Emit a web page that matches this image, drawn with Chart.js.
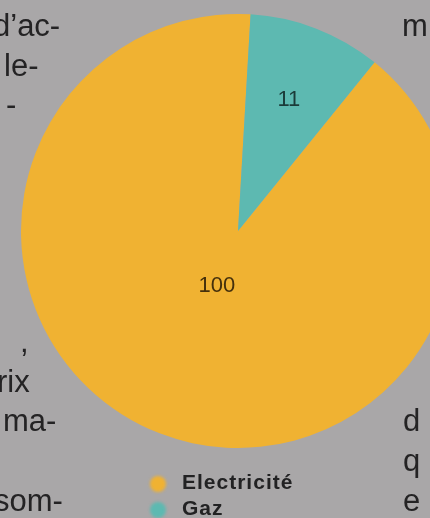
<!DOCTYPE html>
<html>
<head>
<meta charset="utf-8">
<script src="https://cdn.jsdelivr.net/npm/chart.js@4.4.1/dist/chart.umd.min.js"></script>
<style>
  html, body { margin: 0; padding: 0; }
  body {
    width: 430px; height: 518px; overflow: hidden; position: relative;
    background: #a9a7a8;
    font-family: "Liberation Sans", Arial, sans-serif;
  }
  .txt { position: absolute; font-size: 31px; line-height: 40px; color: #242324; white-space: pre; filter: blur(0.4px); }
  #wrap { position: absolute; left: 0; top: 0; width: 476px; height: 518px; }
  #pieChart { filter: blur(0.5px); }
  #legend { position: absolute; left: 148px; top: 472px; }
  .item { position: relative; height: 26px; font-weight: bold; font-size: 21px; letter-spacing: 1px; color: #222223; }
  .dot { position: absolute; left: 2px; top: 4px; width: 16px; height: 16px; border-radius: 50%; filter: blur(1.5px); }
  .lab { position: absolute; left: 34px; top: -2px; white-space: nowrap; filter: blur(0.4px); }
</style>
</head>
<body>
<!-- page text around the figure (scanned book page) -->
<div class="txt" style="left:-7px; top:6px;">d’ac-</div>
<div class="txt" style="left:4px; top:46px;">le-</div>
<div class="txt" style="left:6px; top:85px;">-</div>
<div class="txt" style="left:20px; top:322px;">,</div>
<div class="txt" style="left:-3px; top:362px;">rix</div>
<div class="txt" style="left:3px; top:401px;">ma-</div>
<div class="txt" style="left:-6px; top:481px;">som-</div>
<div class="txt" style="left:402px; top:6px;">m</div>
<div class="txt" style="left:403px; top:401px;">d</div>
<div class="txt" style="left:403px; top:441px;">q</div>
<div class="txt" style="left:403px; top:481px;">e</div>

<div id="wrap"><canvas id="pieChart" width="476" height="518"></canvas></div>
<div id="legend"></div>

<script>
var categories = ['Electricité', 'Gaz'];
var values = [100, 11];
var sliceColors = ['#f0b232', '#5db9b1'];
var labelColors = ['#45300c', '#1b3b39'];

// how far out (fraction of radius) each value label sits
var labelDistance = [0.27, 0.65];

var valueLabels = {
    id: 'valueLabels',
    afterDatasetsDraw: function (chart) {
        var ctx = chart.ctx;
        var meta = chart.getDatasetMeta(0);
        ctx.save();
        ctx.font = '22px "Liberation Sans", Arial, sans-serif';
        ctx.textAlign = 'center';
        ctx.textBaseline = 'middle';
        meta.data.forEach(function (arc, i) {
            var mid = (arc.startAngle + arc.endAngle) / 2;
            var r = arc.outerRadius * labelDistance[i];
            ctx.fillStyle = labelColors[i];
            ctx.fillText(String(values[i]), arc.x + Math.cos(mid) * r, arc.y + Math.sin(mid) * r);
        });
        ctx.restore();
    }
};

var ctx = document.getElementById('pieChart').getContext('2d');
var chart = new Chart(ctx, {
    type: 'pie',
    data: {
        labels: categories,
        datasets: [{
            data: values,
            backgroundColor: sliceColors,
            borderWidth: 0
        }]
    },
    options: {
        responsive: false,
        animation: false,
        rotation: 39,
        layout: { padding: { top: 14, bottom: 70, left: 0, right: 0 } },
        plugins: {
            legend: { display: false },
            tooltip: { enabled: false }
        }
    },
    plugins: [valueLabels]
});

// legend built from the chart's own labels and colours
var legend = document.getElementById('legend');
chart.data.labels.forEach(function (name, i) {
    var item = document.createElement('div');
    item.className = 'item';
    var dot = document.createElement('span');
    dot.className = 'dot';
    dot.style.background = chart.data.datasets[0].backgroundColor[i];
    var lab = document.createElement('span');
    lab.className = 'lab';
    lab.textContent = name;
    item.appendChild(dot);
    item.appendChild(lab);
    legend.appendChild(item);
});
</script>
</body>
</html>
